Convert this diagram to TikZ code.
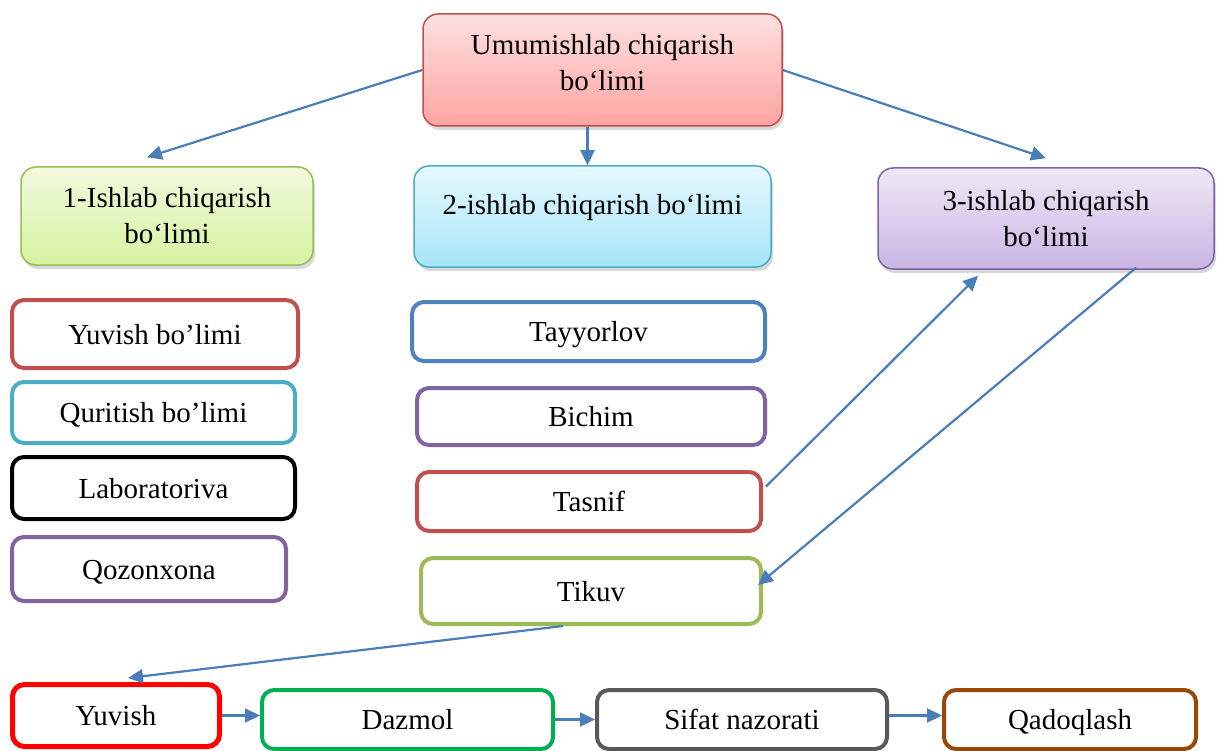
\documentclass[tikz,border=0pt]{standalone}
\usepackage{fontspec}
\setmainfont{Liberation Serif}
\usetikzlibrary{arrows.meta,shadows,calc}
\definecolor{cRed}{HTML}{C0504D}
\definecolor{cCyan}{HTML}{4BACC6}
\definecolor{cPurple}{HTML}{8064A2}
\definecolor{cBlue}{HTML}{4F81BD}
\definecolor{cGreen}{HTML}{9BBB59}
\definecolor{cArrow}{HTML}{4A7EBB}
\definecolor{bRed}{HTML}{FF0000}
\definecolor{bGreen}{HTML}{00B050}
\definecolor{bGray}{HTML}{595959}
\definecolor{bBrown}{HTML}{984806}
\definecolor{pinkTop}{HTML}{FDE0E0}
\definecolor{pinkBot}{HTML}{FFA3A3}
\definecolor{greenTop}{HTML}{F1F9DE}
\definecolor{greenBot}{HTML}{D7F3A0}
\definecolor{cyanTop}{HTML}{E6F9FE}
\definecolor{cyanBot}{HTML}{A5E5F9}
\definecolor{lavTop}{HTML}{EEE8F6}
\definecolor{lavBot}{HTML}{C9B5E3}
\tikzset{
  txt/.style={font=\fontsize{29}{36}\selectfont, align=center, inner sep=0pt},
  headbox/.style={txt, rectangle, rounded corners=15pt, line width=1.5pt,
    shading=axis, shading angle=0,
    drop shadow={shadow xshift=2pt, shadow yshift=-4pt, opacity=0.3}},
  outbox/.style={txt, rectangle, rounded corners=12pt, line width=4pt, fill=white,
    text height=26pt, text depth=6pt},
  arr/.style={draw=cArrow, line width=2.2pt, -{Triangle[length=15pt,width=14pt]}}
}
\begin{document}
\begin{tikzpicture}[x=1pt,y=-1pt]
\useasboundingbox (0,0) rectangle (1217,751);
% header boxes
\node[headbox, draw=cRed, top color=pinkTop, bottom color=pinkBot,
  minimum width=359pt, minimum height=112pt, text depth=16pt] (top) at (602.5,70)
  {Umumishlab chiqarish\\bo‘limi};
\node[headbox, draw=cGreen, top color=greenTop, bottom color=greenBot,
  minimum width=292pt, minimum height=98pt] (one) at (167,216)
  {1-Ishlab chiqarish\\bo‘limi};
\node[headbox, draw=cCyan, top color=cyanTop, bottom color=cyanBot,
  minimum width=357pt, minimum height=101pt, text depth=24pt] (two) at (592.5,216.5)
  {2-ishlab chiqarish bo‘limi};
\node[headbox, draw=cPurple, top color=lavTop, bottom color=lavBot,
  minimum width=336pt, minimum height=101pt] (three) at (1046,218.5)
  {3-ishlab chiqarish\\bo‘limi};
% left column
\node[outbox, draw=cRed, minimum width=286pt, minimum height=68pt] (yb) at (155,334) {Yuvish bo’limi};
\node[outbox, draw=cCyan, minimum width=283pt, minimum height=61pt] (qb) at (153.5,412.5) {Quritish bo’limi};
\node[outbox, draw=black, minimum width=283pt, minimum height=62pt] (lab) at (153.5,488) {Laboratoriva};
\node[outbox, draw=cPurple, minimum width=274pt, minimum height=64pt] (qoz) at (149,569) {Qozonxona};
% middle column
\node[outbox, draw=cBlue, minimum width=353pt, minimum height=59pt] (tay) at (588.5,331.5) {Tayyorlov};
\node[outbox, draw=cPurple, minimum width=348pt, minimum height=57pt] (bic) at (591,416.5) {Bichim};
\node[outbox, draw=cRed, minimum width=344pt, minimum height=59pt] (tas) at (589,501.5) {Tasnif};
\node[outbox, draw=cGreen, minimum width=340pt, minimum height=66pt] (tik) at (591,591) {Tikuv};
% bottom row
\node[outbox, draw=bRed, line width=5pt, minimum width=207pt, minimum height=62pt] (yuv) at (116,715.5) {Yuvish};
\node[outbox, draw=bGreen, minimum width=291pt, minimum height=59pt] (daz) at (407.5,719.5) {Dazmol};
\node[outbox, draw=bGray, minimum width=290pt, minimum height=59pt] (sif) at (742,719.5) {Sifat nazorati};
\node[outbox, draw=bBrown, minimum width=252pt, minimum height=59pt] (qad) at (1070,719.5) {Qadoqlash};
% connectors
\coordinate (sifout) at ($(sif.east)+(0,-4)$);
\draw[arr] (top.west) -- ($(one.north)+(-20,-9)$);
\draw[arr] ($(top.south)+(-15,0)$) -- ($(two.north)+(-5,0)$);
\draw[arr] (top.east) -- ($(three.north)+(0,-9)$);
\draw[arr] ($(tas.east)+(3,-15)$) -- ($(three.south)+(-68,6)$);
\draw[arr] ($(three.south)+(90,-2)$) -- ($(tik.east)+(-5,-6)$);
\draw[arr] ($(tik.south)+(-28,0)$) -- ($(yuv.north)+(12,-4)$);
\draw[arr] (yuv.east) -- (yuv.east -| daz.west);
\draw[arr] (daz.east) -- (daz.east -| sif.west);
\draw[arr] (sifout) -- (sifout -| qad.west);
\end{tikzpicture}
\end{document}
